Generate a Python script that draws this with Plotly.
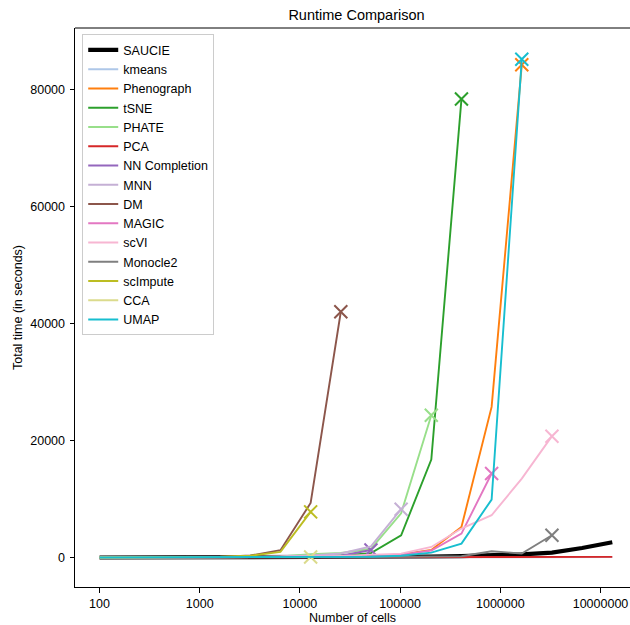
import plotly.graph_objects as go

# ---- data ----
cells = [100, 200, 400, 800, 1600, 3200, 6400, 12800, 25600, 51200, 102400,
         204800, 409600, 819200, 1638400, 3276800, 6553600, 13107200]

method_names = ["SAUCIE", "kmeans", "Phenograph", "tSNE", "PHATE", "PCA",
                "NN Completion", "MNN", "DM", "MAGIC", "scVI", "Monocle2",
                "scImpute", "CCA", "UMAP"]

saucie = [10, 12, 15, 20, 25, 35, 50, 70, 90, 110, 140, 180, 250, 350, 560, 850, 1640, 2620]
kmeans = [2, 2, 3, 4, 5, 6, 8, 10, 12, 15, 20, 25, 30, 40, 50, 60, 70, 80]
phenograph = [5, 6, 8, 10, 15, 25, 40, 70, 120, 250, 550, 1300, 5230, 25740, 84200]
tsne = [3, 5, 8, 15, 30, 60, 120, 220, 380, 750, 3800, 16750, 78340]
phate = [20, 25, 30, 40, 60, 100, 200, 560, 790, 1500, 7570, 24320]
pca = [1, 1, 1, 2, 2, 3, 4, 5, 7, 10, 15, 20, 30, 40, 50, 70, 90, 120]
nn_completion = [5, 8, 12, 20, 30, 50, 90, 160, 300, 1300]
mnn = [10, 15, 20, 30, 50, 90, 180, 350, 700, 1900, 8260]
dm = [5, 10, 20, 40, 100, 350, 1250, 9330, 42000]
magic = [5, 8, 10, 15, 20, 30, 50, 80, 130, 250, 500, 1200, 4100, 14360]
scvi = [50, 55, 60, 70, 80, 100, 130, 180, 280, 450, 680, 1810, 4960, 7230, 13500, 20740]
monocle2 = [20, 22, 25, 30, 35, 40, 50, 60, 80, 100, 130, 180, 220, 1080, 680, 3810]
scimpute = [10, 20, 40, 80, 150, 300, 960, 7800]
cca = [10, 15, 20, 30, 40, 60, 80, 100]
umap = [5, 8, 10, 15, 20, 30, 40, 60, 90, 150, 300, 850, 2390, 9910, 85130]

# whether the run was cut off (marked with an X at its last point)
truncated = [False, False, True, True, True, False, True, True, True, True,
             True, True, True, True, True]

x_tick_vals = [100, 1000, 10000, 100000, 1000000, 10000000]
x_tick_text = ["100", "1000", "10000", "100000", "1000000", "10000000"]
y_tick_vals = [0, 20000, 40000, 60000, 80000]

# ---- styles ----
colors = ["#000000", "#aec7e8", "#ff7f0e", "#2ca02c", "#98df8a", "#d62728",
          "#9467bd", "#c5b0d5", "#8c564b", "#e377c2", "#f7b6d2", "#7f7f7f",
          "#bcbd22", "#dbdb8d", "#17becf"]

series = [saucie, kmeans, phenograph, tsne, phate, pca, nn_completion, mnn,
          dm, magic, scvi, monocle2, scimpute, cca, umap]

FONT = "Liberation Sans, Arial, Helvetica, sans-serif"

fig = go.Figure()
for name, vals, col, trunc in zip(method_names, series, colors, truncated):
    xs = cells[:len(vals)]
    fig.add_trace(go.Scatter(
        x=xs, y=vals, mode="lines", name=name,
        line=dict(color=col, width=4.2 if name == "SAUCIE" else 1.9),
    ))
    if trunc:
        fig.add_trace(go.Scatter(
            x=[xs[-1]], y=[vals[-1]], mode="markers", showlegend=False,
            hoverinfo="skip",
            marker=dict(symbol="x-thin", size=13, color=col,
                        line=dict(color=col, width=2)),
        ))

axis_common = dict(
    showline=True, linecolor="black", linewidth=1,
    ticks="outside", ticklen=4.5, tickwidth=1, tickcolor="black",
    showgrid=False, zeroline=False, automargin=False,
    tickfont=dict(family=FONT, size=12.5, color="black"),
)

fig.update_layout(
    width=630, height=625,
    margin=dict(l=75, r=0, t=28, b=38, autoexpand=False),
    paper_bgcolor="white", plot_bgcolor="white",
    font=dict(family=FONT, size=12.5, color="black"),
    title=dict(text="Runtime Comparison", x=356.5 / 630, xanchor="center",
               xref="container", automargin=False,
               y=1 - 15 / 625, yanchor="middle", yref="container",
               font=dict(family=FONT, size=14.5, color="black")),
    xaxis=dict(type="log", range=[1.7555, 7.2944],
               tickvals=x_tick_vals, ticktext=x_tick_text,
               title=dict(text="Number of cells", standoff=4,
                          font=dict(family=FONT, size=12.5)),
               **axis_common),
    yaxis=dict(range=[-5030, 90480], tickvals=y_tick_vals, tickformat="d",
               ticklabelstandoff=2,
               title=dict(text="Total time (in seconds)", standoff=4,
                          font=dict(family=FONT, size=12.5)),
               **axis_common),
    legend=dict(x=0.013, y=0.9887, xanchor="left", yanchor="top",
                bgcolor="rgba(255,255,255,0.8)", bordercolor="#cccccc",
                borderwidth=1, font=dict(family=FONT, size=12.5),
                tracegroupgap=0, itemwidth=30),
    shapes=[dict(type="line", xref="paper", yref="paper", x0=0, x1=1,
                 y0=1, y1=1, line=dict(color="black", width=1))],
)

fig.write_html("out.html", config={"displayModeBar": False},
               post_script="document.body.style.margin='0px';")
